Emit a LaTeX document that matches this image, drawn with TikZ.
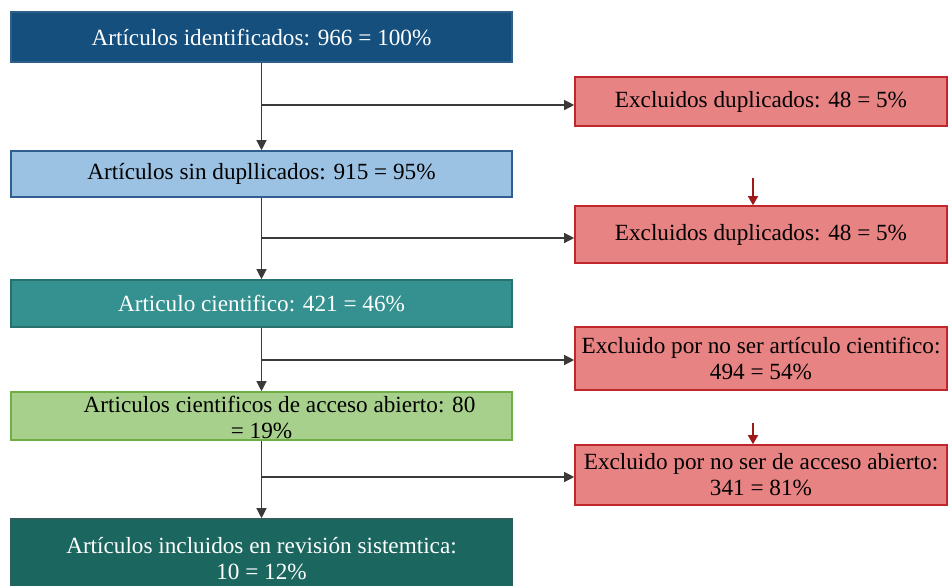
\documentclass[tikz,border=0pt]{standalone}
\usepackage{fontspec}
\setmainfont{Liberation Serif}
\usetikzlibrary{arrows.meta}
\definecolor{azul}{HTML}{154F7D}
\definecolor{azulborde}{HTML}{2D5F88}
\definecolor{celeste}{HTML}{9CC2E3}
\definecolor{celesteborde}{HTML}{2F5F90}
\definecolor{turquesa}{HTML}{35918F}
\definecolor{turquesaborde}{HTML}{28716F}
\definecolor{verde}{HTML}{A8D08D}
\definecolor{verdeborde}{HTML}{6FAE45}
\definecolor{petroleo}{HTML}{1B665F}
\definecolor{petroleoborde}{HTML}{2F5F5A}
\definecolor{rojo}{HTML}{E88383}
\definecolor{rojoborde}{HTML}{C0262C}
\definecolor{rojomarca}{HTML}{A01818}
\definecolor{linea}{HTML}{3A3A3A}

\begin{document}
\begin{tikzpicture}[x=0.5pt, y=-0.5pt,
    caja/.style={draw, line width=0.8pt, minimum width=250.5pt, inner sep=0pt,
                 align=center, font=\fontsize{11.6}{13}\selectfont},
    excl/.style={draw=rojoborde, fill=rojo, line width=0.8pt, minimum width=186pt,
                 inner sep=0pt, align=center, font=\fontsize{11.6}{13}\selectfont},
    flecha/.style={draw=linea, line width=0.6pt, -{Triangle[length=5pt,width=5pt]}},
    marca/.style={draw=rojomarca, line width=0.7pt, -{Triangle[length=4.5pt,width=5pt]}}]
  \useasboundingbox (0,0) rectangle (949,585);

  % etapas
  \node[caja, fill=azul, draw=azulborde, text=white, minimum height=25pt]
    (ident) at (261.5,37) {Artículos identificados: 966 = 100\%};
  \node[caja, fill=celeste, draw=celesteborde, minimum height=23pt]
    (sindup) at (261.5,174) {Artículos sin dupllicados: 915 = 95\%};
  \node[caja, fill=turquesa, draw=turquesaborde, text=white, minimum height=23.5pt]
    (cient) at (261.5,303.5) {Articulo cientifico: 421 = 46\%};
  \node[caja, fill=verde, draw=verdeborde, minimum height=24pt]
    (abierto) at (261.5,416) {\smash{\raisebox{-5pt}{\begin{tabular}{@{}c@{}}\hspace*{18pt}Articulos cientificos de acceso abierto: 80\\ = 19\%\end{tabular}}}};
  \node[caja, fill=petroleo, draw=petroleoborde, text=white, minimum height=40pt]
    (incl) at (261.5,559) {Artículos incluidos en revisión sistemtica:\\ 10 = 12\%};

  % excluidos
  \node[excl, minimum height=24.5pt] (dup) at (761,101.5) {Excluidos duplicados: 48 = 5\%};
  \node[excl, minimum height=28.5pt] (dupdos) at (761,234.5) {Excluidos duplicados: 48 = 5\%};
  \node[excl, minimum height=31.5pt] (nocient) at (761,358.5) {Excluido por no ser artículo cientifico:\\ 494 = 54\%};
  \node[excl, minimum height=30pt] (noabierto) at (761,475) {Excluido por no ser de acceso abierto:\\ 341 = 81\%};

  \foreach \a/\b in {ident/sindup, sindup/cient, cient/abierto, abierto/incl}{
    \draw [flecha] (\a.south) -- (\b.north);
  };

  \foreach \a/\y/\r in {ident/105/dup, sindup/238/dupdos, cient/360/nocient, abierto/477/noabierto}{
    \coordinate (salida-\r) at (\a.south |- 0,\y);
    \draw [flecha] (salida-\r) -- (salida-\r -| \r.west);
  };

  \foreach \r/\y in {dupdos/178, noabierto/423}{
    \coordinate (marca-\r) at (753,\y);
    \draw [marca] (marca-\r) -- (marca-\r |- \r.north);
  };
\end{tikzpicture}
\end{document}
